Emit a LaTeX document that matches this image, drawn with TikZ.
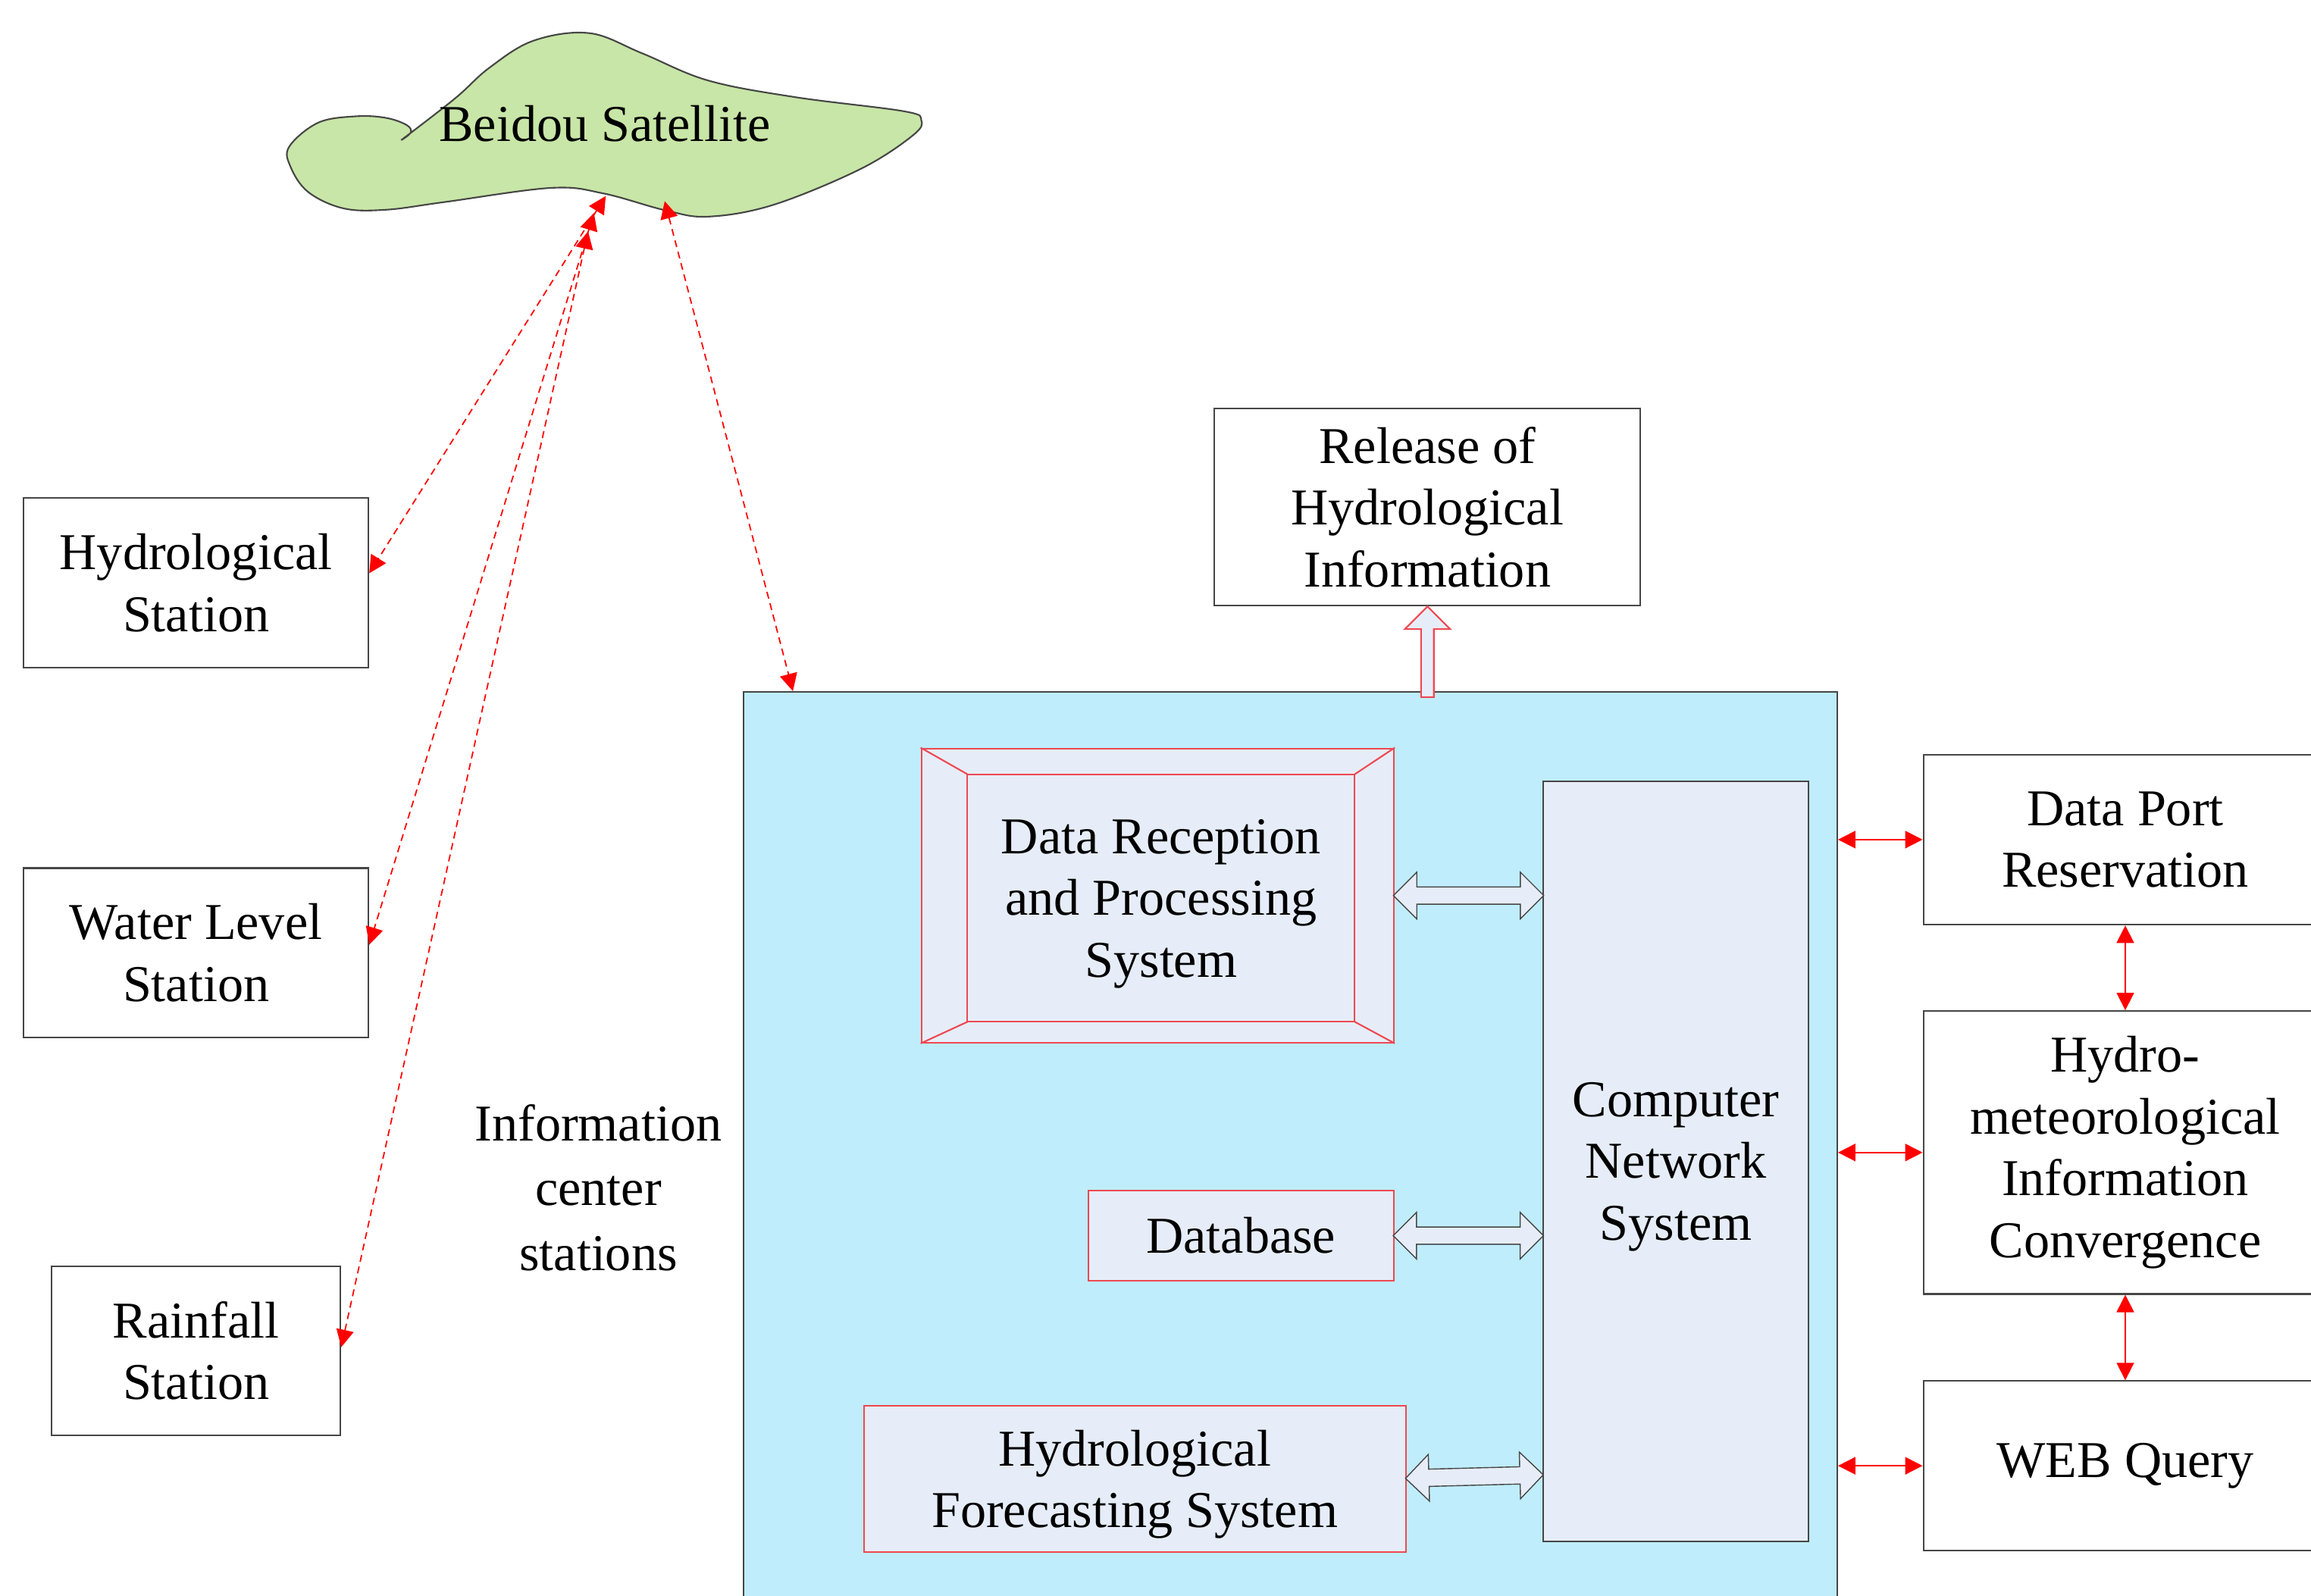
\documentclass[tikz,border=0pt]{standalone}
\usepackage{fontspec}
\setmainfont{Liberation Serif}
\usepackage{tikz}
\usetikzlibrary{shapes.arrows,arrows.meta,positioning,calc}
\definecolor{satgreen}{RGB}{200,230,167}
\definecolor{centerblue}{RGB}{191,237,251}
\definecolor{sysgrey}{RGB}{230,237,248}
\definecolor{boxred}{RGB}{238,72,82}
\definecolor{edgegrey}{RGB}{70,70,70}
\newdimen\px \px=0.19445mm

\begin{document}
\begin{tikzpicture}[x=0.19445mm, y=-0.19445mm,
    font=\fontsize{19.4}{23.2}\selectfont,
    station/.style={rectangle, draw=edgegrey, line width=0.6pt, fill=white,
                    align=center, inner sep=0pt},
    sysbox/.style={rectangle, draw=boxred, line width=0.6pt, fill=sysgrey,
                   align=center, inner sep=0pt},
    link/.style={{Triangle[length=0.23cm,width=0.23cm]}-{Triangle[length=0.23cm,width=0.23cm]},
                 red, line width=0.5pt},
    radio/.style={link, dash pattern=on 2.6pt off 1.8pt},
    dblarrow/.style={double arrow, draw=edgegrey, fill=sysgrey, line width=0.4pt,
                     inner xsep=0pt, inner ysep=5.5\px, outer sep=0pt,
                     double arrow head extend=10\px, minimum width=31\px},
    uparrow/.style={single arrow, shape border rotate=90, draw=boxred, fill=sysgrey,
                    line width=0.6pt, inner sep=3.8\px, outer sep=0pt,
                    single arrow head extend=11\px, minimum width=30\px},
    node distance=58\px
]
\useasboundingbox (0,0) rectangle (1568,1083);

\draw[draw=edgegrey, fill=satgreen, line width=0.6pt] plot[smooth, tension=0.6] coordinates {
    (272.2,95.1) (278.6,90) (276,84.9) (262,80) (241.7,78.9) (216,83.2) (196.3,99.4)
    (197.1,113.1) (209.1,130.3) (233.1,141.4) (262.3,142.3) (301.7,137.1) (374,127.5)
    (409.6,131.3) (451,142.6) (480.4,147) (524.7,139) (583.8,114.7) (619.2,92)
    (625.1,81.6) (613.3,75.5) (539.4,65.9) (480.4,54.6) (436,36.3) (400,22.5)
    (362,27.6) (332,46) (308.6,66.9) (272.2,95.1)};
\node (sat) at (410.5,84) {Beidou Satellite};
\coordinate (satH) at (411,133);
\coordinate (satW) at (403,144.5);
\coordinate (satR) at (399,157);
\coordinate (satC) at (451,136.5);

\node[station, minimum width=234\px, minimum height=115\px] (hydro) at (133,395.5) {Hydrological\\Station};
\node[station, minimum width=234\px, minimum height=115\px, below=135\px of hydro] (water) {Water Level\\Station};
\node[station, minimum width=196\px, minimum height=115\px, below=154\px of water] (rain) {Rainfall\\Station};
\node[align=center] (ics) at (406,806) {Information\\[1pt]center\\[1pt]stations};

\node[rectangle, draw=edgegrey, fill=centerblue, line width=0.6pt, anchor=north west,
      minimum width=742\px, minimum height=650\px] (infocenter) at (504,469) {};
\node[station, minimum width=289\px, minimum height=134\px] (release) at (968.5,344) {Release of\\Hydrological\\Information};

\node[sysbox, minimum width=320.6\px, minimum height=199.6\px] (drpsframe) at (785.5,607.7) {};
\node[sysbox, minimum width=262.8\px, minimum height=168\px, outer sep=0pt, text depth=0pt] (drps) at (787.8,609.4) {Data Reception\\and Processing\\System};
\foreach \c in {north west, north east, south west, south east}
    \draw[boxred, line width=0.6pt] (drpsframe.\c) -- (drps.\c);
\node[sysbox, minimum width=207\px, minimum height=61\px] (db) at (842,838.5) {Database};
\node[sysbox, minimum width=367.7\px, minimum height=99\px, text depth=0pt] (fcs) at (769.9,1003.5) {Hydrological\\Forecasting System};
\node[rectangle, draw=edgegrey, fill=sysgrey, line width=0.6pt, align=center, text depth=0pt,
      minimum width=180\px, minimum height=516\px] (cns) at (1137,788) {Computer\\Network\\System};

\node[dblarrow, minimum height=102\px] (arrDR) at ($(drpsframe.east)!0.5!(cns.west |- drpsframe.east)$) {};
\node[dblarrow, minimum height=102\px] (arrDB) at ($(db.east)!0.5!(cns.west |- db.east)$) {};
\node[dblarrow, minimum height=93.5\px, rotate=1.5] (arrFC) at ($(fcs.east)!0.5!(cns.west |- fcs.east)+(0,-1.5)$) {};
\node[uparrow, minimum height=61.5\px, anchor=tip] (arrRel) at (release.south) {};

\node[station, minimum width=274\px, minimum height=115.5\px] (dpr) at (1442,569.75) {Data Port\\Reservation};
\node[station, minimum width=274\px, minimum height=192\px, below=57.5\px of dpr] (hmic) {Hydro-\\meteorological\\Information\\Convergence};
\node[station, minimum width=274\px, minimum height=115\px, below=58\px of hmic] (web) {WEB Query};

\draw[link] (infocenter.east |- dpr.west) -- (dpr.west);
\draw[link] (infocenter.east |- hmic.west) -- (hmic.west);
\draw[link] (infocenter.east |- web.west) -- (web.west);
\draw[link] (dpr) -- (hmic);
\draw[link] (hmic) -- (web);

\draw[radio] (satH) -- ([yshift=6.5\px]hydro.east);
\draw[radio] (satW) -- ([yshift=5.5\px]water.east);
\draw[radio] (satR) -- ([yshift=2.5\px]rain.east);
\draw[radio] (satC) -- ([xshift=34\px]infocenter.north west);
\end{tikzpicture}
\end{document}
